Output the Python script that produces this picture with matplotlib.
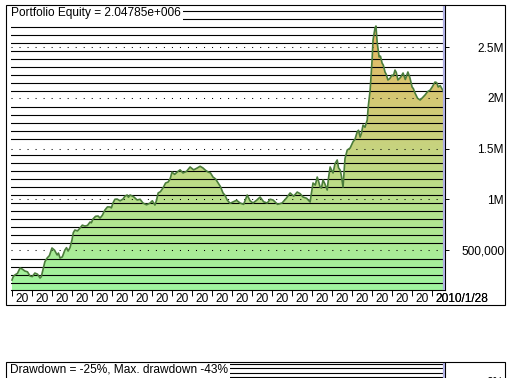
import numpy as np
import matplotlib.pyplot as plt
import matplotlib.transforms as mtransforms
from matplotlib.colors import LinearSegmentedColormap
from matplotlib.patches import Rectangle

plt.rcParams['font.family'] = ['Liberation Sans', 'DejaVu Sans']
FS = 8.6

# equity curve (bar index, thousands of dollars)
days = [0, 4, 9, 17, 25, 32, 40, 48, 56, 63,
        71, 79, 87, 91, 96, 102, 109, 116, 124, 132,
        140, 144, 149, 156, 164, 169, 174, 180, 186, 190,
        195, 203, 211, 218, 226, 234, 242, 246, 251, 259,
        267, 273, 280, 288, 296, 304, 308, 313, 319, 326,
        335, 344, 350, 357, 361, 366, 377, 388, 397, 406,
        417, 428, 435, 443, 448, 453, 460, 468, 476, 484,
        490, 496, 504, 512, 521, 530, 541, 552, 563, 574,
        583, 592, 600, 608, 615, 623, 631, 639, 646, 654,
        660, 667, 676, 685, 696, 707, 718, 729, 738, 747,
        758, 769, 780, 791, 800, 809, 823, 837, 850, 862,
        873, 884, 893, 902, 913, 924, 928, 933, 940, 946,
        950, 955, 959, 964, 970, 977, 981, 986, 990, 995,
        1001, 1008, 1012, 1017, 1021, 1026, 1032, 1039, 1048, 1057,
        1063, 1070, 1074, 1079, 1083, 1088, 1094, 1101, 1104, 1110,
        1116, 1119, 1125, 1128, 1132, 1135, 1138, 1142, 1147, 1151,
        1156, 1160, 1165, 1171, 1178, 1182, 1187, 1191, 1196, 1204,
        1212, 1219, 1227, 1233, 1240, 1244, 1249, 1257, 1265, 1272,
        1280, 1288, 1296, 1303, 1311, 1316, 1321, 1327, 1333, 1336,
        1339]

equity_k = [204, 238, 254, 270, 323, 312, 293, 285, 244, 238,
            273, 262, 224, 238, 303, 385, 421, 445, 520, 498,
            451, 470, 421, 432, 500, 523, 490, 525, 599, 670,
            697, 688, 717, 745, 736, 742, 776, 768, 805, 832,
            835, 815, 842, 894, 925, 924, 915, 963, 1000, 1002,
            985, 1002, 1030, 1042, 1020, 1042, 1025, 993, 1000, 963,
            945, 963, 985, 943, 990, 1062, 1075, 1111, 1160, 1170,
            1200, 1268, 1245, 1268, 1290, 1259, 1275, 1318, 1290, 1308,
            1325, 1308, 1285, 1268, 1260, 1219, 1200, 1160, 1125, 1062,
            1040, 993, 960, 973, 990, 963, 950, 1042, 985, 963,
            990, 1022, 975, 963, 1000, 993, 950, 963, 1010, 1062,
            1030, 1071, 1055, 1022, 1010, 973, 1060, 1160, 1140, 1219,
            1180, 1120, 1110, 1190, 1150, 1091, 1210, 1318, 1290, 1259,
            1350, 1387, 1310, 1288, 1230, 1120, 1400, 1485, 1505, 1567,
            1590, 1666, 1680, 1613, 1650, 1731, 1710, 1781, 1909, 2076,
            2372, 2569, 2687, 2707, 2539, 2470, 2401, 2410, 2342, 2320,
            2254, 2230, 2175, 2190, 2224, 2215, 2273, 2250, 2175, 2200,
            2244, 2180, 2254, 2200, 2106, 2090, 2047, 1995, 1978, 2000,
            2027, 2060, 2076, 2110, 2155, 2150, 2106, 2120, 2087, 2070,
            2047.85]
equity = [v * 1000 for v in equity_k]

y_ticks = [500e3, 1e6, 1.5e6, 2e6, 2.5e6]
y_labels = ['500,000', '1M', '1.5M', '2M', '2.5M']
tick_days = list(range(0, 1303, 62))
end_label = '2010/1/28'

W, H = 511, 378
fig = plt.figure(figsize=(W / 100, H / 100), dpi=100)


def box(x0, y0, x1, y1):
    return [x0 / W, 1 - y1 / H, (x1 - x0) / W, (y1 - y0) / H]


XMIN, XMAX = -3, 1342
YMIN, YMAX = 106e3, 2914e3
CURSOR = '#b0b0e4'

# ---- equity panel
ax = fig.add_axes(box(11, 5, 445, 290))
poly = ax.fill_between(days, equity, 0, facecolor='none', edgecolor='none')
cmap = LinearSegmentedColormap.from_list('eq', ['#a0f5a0', '#eeb25e'])
grad = np.linspace(0, 1, 256).reshape(-1, 1)
img = ax.imshow(grad, cmap=cmap, aspect='auto', origin='lower',
                extent=[XMIN, XMAX, YMIN, YMAX], zorder=1)
img.set_clip_path(poly.get_paths()[0], ax.transData)

for g in np.arange(175e3, YMAX, 78.8e3):
    if min(abs(g - m) for m in y_ticks) < 30e3:
        continue
    ax.axhline(g, color='black', lw=0.8, zorder=2)
for m in y_ticks:
    ax.axhline(m, color='black', lw=0.75, ls=(0, (1, 6.7)), zorder=2)

ax.plot(days, equity, color='#4b7d3b', lw=1.2, zorder=3)
ax.axvline(days[-1], color=CURSOR, lw=1.6, zorder=4)

ax.set_xlim(XMIN, XMAX)
ax.set_ylim(YMIN, YMAX)
for s in ['left', 'top']:
    ax.spines[s].set_visible(False)
for s in ['bottom', 'right']:
    ax.spines[s].set_linewidth(0.8)

ax.set_xticks(tick_days)
ax.set_xticklabels([])
ax.tick_params(axis='x', direction='out', length=4.3, width=0.7)
trans = mtransforms.offset_copy(ax.get_xaxis_transform(), fig=fig,
                                x=3, y=-8.5, units='dots')
for i, d in enumerate(tick_days):
    lab = end_label if i == len(tick_days) - 1 else '20'
    ax.text(d, 0, lab, transform=trans, fontsize=FS, ha='left', va='center')
trans2 = mtransforms.offset_copy(trans, fig=fig, x=0.8, units='dots')
ax.text(tick_days[-1], 0, end_label, transform=trans2, fontsize=FS,
        ha='left', va='center')

ax.yaxis.tick_right()
ax.set_yticks(y_ticks)
ax.set_yticklabels(y_labels, fontsize=FS)
ax.tick_params(axis='y', direction='out', length=2.9, width=0.7, pad=39.6)
for lbl in ax.get_yticklabels():
    lbl.set_horizontalalignment('right')

fig.add_artist(Rectangle((6 / W, 1 - 305 / H), 499 / W, 300 / H,
                         transform=fig.transFigure, fill=False,
                         ec='black', lw=0.8, zorder=10))
fig.text(11 / W, 1 - 13 / H, 'Portfolio Equity = 2.04785e+006', fontsize=FS,
         ha='left', va='center', zorder=6,
         bbox=dict(fc='white', ec='none', pad=1.5))

# ---- drawdown panel (mostly below the visible area)
ax2 = fig.add_axes(box(11, 363, 445, 463))
for g in np.arange(9.95, -45, -2.39):
    ax2.axhline(g, color='black', lw=0.8, zorder=2)
ax2.axvline(days[-1], color=CURSOR, lw=1.6, zorder=4)
ax2.set_xlim(XMIN, XMAX)
ax2.set_ylim(-45, 10.5)
for s in ['left', 'top', 'bottom']:
    ax2.spines[s].set_visible(False)
ax2.spines['right'].set_linewidth(0.8)
ax2.set_xticks([])
ax2.yaxis.tick_right()
ax2.set_yticks([0])
ax2.set_yticklabels(['0%'], fontsize=FS)
ax2.tick_params(axis='y', direction='out', length=2.9, width=0.7, pad=39.6)
for lbl in ax2.get_yticklabels():
    lbl.set_horizontalalignment('right')

fig.add_artist(Rectangle((6 / W, 1 - 470 / H), 499 / W, 108 / H,
                         transform=fig.transFigure, fill=False,
                         ec='black', lw=0.8, zorder=10))
fig.text(10 / W, 1 - 370 / H, 'Drawdown = -25%, Max. drawdown -43%',
         fontsize=FS, ha='left', va='center', zorder=6,
         bbox=dict(fc='white', ec='none', pad=1.5))

fig.savefig('out.png', dpi=100)
